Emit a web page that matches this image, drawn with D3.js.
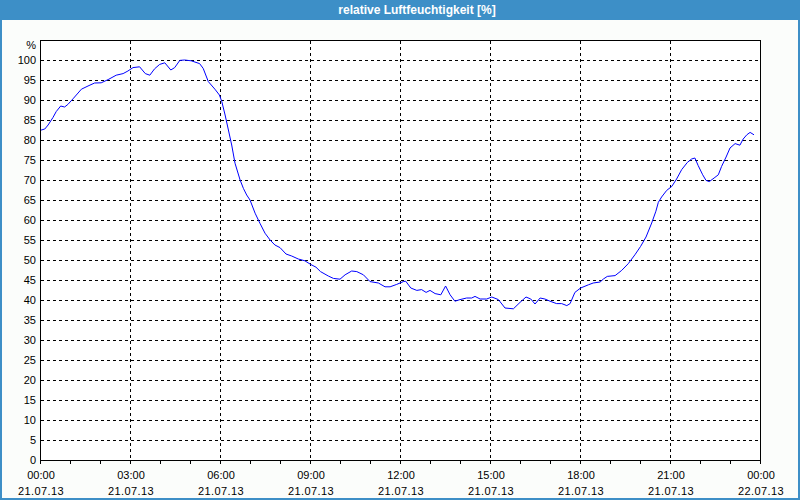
<!DOCTYPE html>
<html><head><meta charset="utf-8">
<script src="https://cdn.jsdelivr.net/npm/d3@7"></script>
<style>
html,body{margin:0;padding:0;background:#fbfdfb;}
svg{display:block;font-family:"Liberation Sans",Arial,sans-serif;}
</style></head>
<body>
<script>
const title = "relative Luftfeuchtigkeit [%]";
const unitLabel = "%";
const hours = [0.0,0.16,0.27,0.43,0.54,0.69,0.82,0.93,1.1,1.38,1.6,1.82,2.04,2.27,2.54,2.77,2.93,3.1,3.32,3.51,3.66,3.82,3.99,4.16,4.36,4.49,4.66,4.82,5.04,5.32,5.44,5.61,5.83,5.98,6.06,6.17,6.28,6.39,6.5,6.67,6.78,6.89,7.0,7.17,7.33,7.5,7.67,7.83,8.0,8.2,8.39,8.61,8.83,9.02,9.2,9.35,9.61,9.78,10.0,10.17,10.39,10.56,10.78,11.0,11.28,11.5,11.67,11.89,12.11,12.19,12.36,12.56,12.72,12.87,13.0,13.17,13.36,13.52,13.67,13.83,14.0,14.22,14.39,14.5,14.67,14.89,15.06,15.28,15.5,15.78,16.0,16.2,16.36,16.5,16.67,16.83,17.0,17.22,17.39,17.56,17.67,17.83,18.02,18.28,18.44,18.67,18.78,18.91,19.17,19.39,19.61,19.83,20.02,20.2,20.39,20.53,20.61,20.72,20.89,21.06,21.22,21.39,21.58,21.72,21.83,21.94,22.09,22.2,22.31,22.47,22.61,22.72,22.87,23.0,23.17,23.33,23.44,23.56,23.67,23.8];
const humidity = [82.4,82.75,83.75,85.6,87.1,88.5,88.25,88.9,90.3,92.7,93.5,94.25,94.3,95.1,96.2,96.6,97.25,98.1,98.3,96.6,96.2,97.8,98.9,99.3,97.5,98.1,99.9,100,99.8,99.1,97.9,94.6,92.7,91.25,89.6,86.25,82.5,78.75,74.2,70,67.9,66.25,65,61.7,59.2,56.7,55,53.75,53.1,51.5,51,50.25,49.8,48.9,48.2,47.1,46,45.4,45.2,46.3,47.25,47.1,46.3,44.6,44.25,43.3,43.3,43.9,44.6,44.7,43,42.4,42.6,41.9,42.4,41.6,41.3,43.5,41.3,39.7,40.1,40.5,40.5,40.9,40.25,40.25,40.75,40.1,38,37.8,39.4,40.75,40.25,39,40.5,40.25,39.7,39.1,39.1,38.6,39.1,41.9,43,43.8,44.25,44.5,45.25,45.9,46.1,47.4,49.1,51.3,53.4,55.75,59.25,62.2,64.4,65.75,67.4,68.4,70.25,72.6,74.4,75.25,75.5,73.6,71.3,69.9,69.6,70.5,71.3,73.4,75.75,78,79.1,78.7,80.25,81.3,81.9,81.3];
const yTicks = [0,5,10,15,20,25,30,35,40,45,50,55,60,65,70,75,80,85,90,95,100];
const xMajorTicks = [0,3,6,9,12,15,18,21,24];
const xTimeLabels = ["00:00","03:00","06:00","09:00","12:00","15:00","18:00","21:00","00:00"];
const xDateLabels = ["21.07.13","21.07.13","21.07.13","21.07.13","21.07.13","21.07.13","21.07.13","21.07.13","22.07.13"];
const xMinorTicks = d3.range(0,25,1);

const W = 800, H = 500;
const svg = d3.select("body").append("svg").attr("width",W).attr("height",H);

// window frame
svg.append("rect").attr("x",0).attr("y",0).attr("width",W).attr("height",H).attr("fill","#3d8fc7");
svg.append("rect").attr("x",2).attr("y",20).attr("width",W-4).attr("height",H-22).attr("fill","#fbfdfb");
svg.append("text").attr("x",417).attr("y",14).attr("text-anchor","middle")
  .attr("fill","#ffffff").attr("font-size",12).attr("font-weight","bold").text(title);

const x = d3.scaleLinear().domain([0,24]).range([40,760]);
const y = d3.scaleLinear().domain([0,105]).range([460,40]);

const g = svg.append("g");
g.append("rect").attr("x",40).attr("y",40).attr("width",720).attr("height",420).attr("fill","#ffffff");

// horizontal gridlines
g.selectAll("line.hg").data(yTicks.filter(d=>d>0)).enter().append("line")
  .attr("x1",41).attr("x2",760).attr("y1",d=>Math.round(y(d))+0.5).attr("y2",d=>Math.round(y(d))+0.5)
  .attr("stroke","#000").attr("stroke-dasharray","3,3").attr("shape-rendering","crispEdges");
// vertical gridlines
g.selectAll("line.vg").data(xMajorTicks.filter(d=>d>0&&d<24)).enter().append("line")
  .attr("x1",d=>Math.round(x(d))+0.5).attr("x2",d=>Math.round(x(d))+0.5).attr("y1",41).attr("y2",460)
  .attr("stroke","#000").attr("stroke-dasharray","3,3").attr("shape-rendering","crispEdges");

// data line
const line = d3.line().x((d,i)=>x(hours[i])).y(d=>y(d));
g.append("path").datum(humidity).attr("d",line).attr("fill","none").attr("stroke","#0000ff").attr("stroke-width",1);

// frame
g.append("rect").attr("x",40.5).attr("y",40.5).attr("width",720).attr("height",420)
  .attr("fill","none").attr("stroke","#000").attr("shape-rendering","crispEdges");

// y labels
g.selectAll("text.yl").data(yTicks).enter().append("text")
  .attr("x",36).attr("y",d=>y(d)+4).attr("text-anchor","end").attr("font-size",11).attr("fill","#000").text(d=>d);
g.append("text").attr("x",36).attr("y",49).attr("text-anchor","end").attr("font-size",11).attr("fill","#000").text(unitLabel);

// x minor ticks
g.selectAll("line.xt").data(xMinorTicks).enter().append("line")
  .attr("x1",d=>Math.round(x(d))+0.5).attr("x2",d=>Math.round(x(d))+0.5).attr("y1",461).attr("y2",464)
  .attr("stroke","#000").attr("shape-rendering","crispEdges");

// x labels
g.selectAll("text.xl").data(xMajorTicks).enter().append("text")
  .attr("x",d=>x(d)+1).attr("y",479).attr("text-anchor","middle").attr("font-size",11).attr("fill","#000")
  .text((d,i)=>xTimeLabels[i]);
g.selectAll("text.xd").data(xMajorTicks).enter().append("text")
  .attr("x",d=>x(d)+1).attr("y",495).attr("text-anchor","middle").attr("font-size",11).attr("fill","#000")
  .attr("letter-spacing",0.4)
  .text((d,i)=>xDateLabels[i]);
</script>
</body></html>
